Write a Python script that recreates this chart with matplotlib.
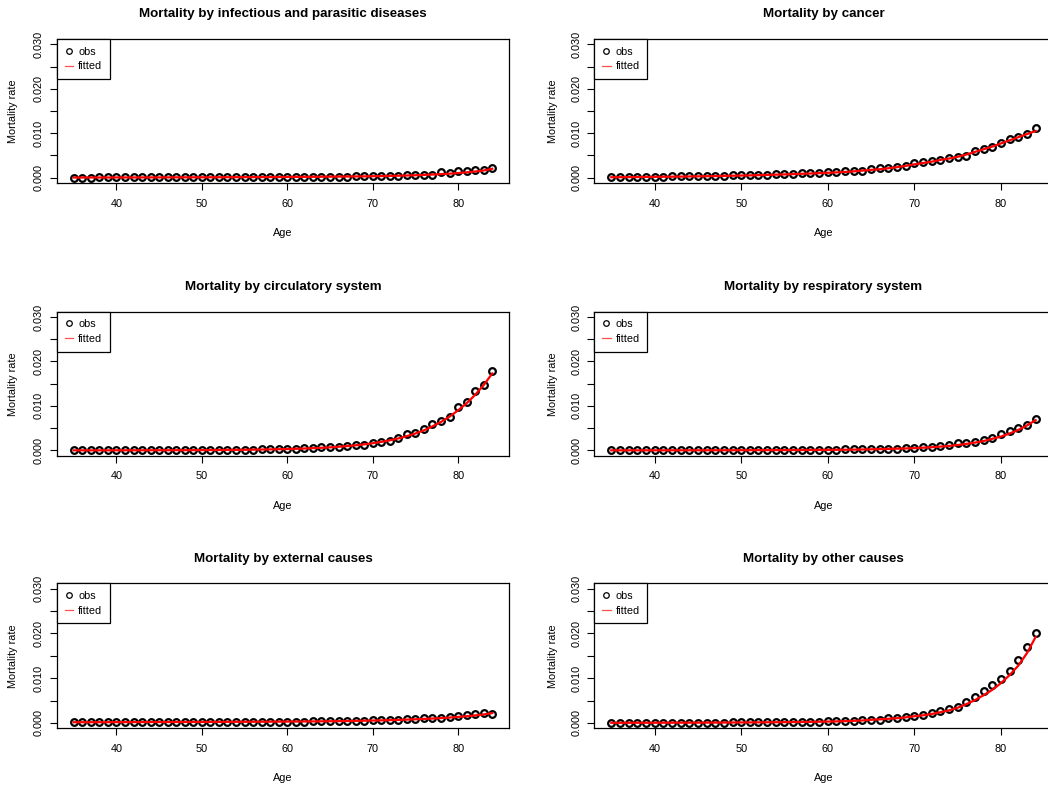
import matplotlib
matplotlib.use("Agg")
import matplotlib.pyplot as plt
from matplotlib.lines import Line2D
from matplotlib.ticker import FixedLocator, FixedFormatter

plt.rcParams['font.family'] = ['Liberation Sans', 'DejaVu Sans']

ages = list(range(35, 85))

titles = [
    "Mortality by infectious and parasitic diseases",
    "Mortality by cancer",
    "Mortality by circulatory system",
    "Mortality by respiratory system",
    "Mortality by external causes",
    "Mortality by other causes",
]

inf_obs = [0.00003, 0.00003, 0.00003, 0.00004, 0.00004, 0.00004, 0.00005, 0.00005, 0.00005, 0.00006,
           0.00006, 0.00006, 0.00007, 0.00007, 0.00008, 0.00008, 0.00009, 0.00009, 0.0001, 0.0001,
           0.00011, 0.00012, 0.00012, 0.00013, 0.00014, 0.00015, 0.00016, 0.00017, 0.00018, 0.0002,
           0.00021, 0.00023, 0.00025, 0.00027, 0.0003, 0.00035, 0.0004, 0.00045, 0.00042, 0.0005,
           0.0006, 0.0007, 0.0007, 0.0012, 0.001, 0.0015, 0.0015, 0.0018, 0.0018, 0.0022]
inf_fit = [0.00003, 0.00003, 0.00004, 0.00004, 0.00004, 0.00005, 0.00005, 0.00005, 0.00006, 0.00006,
           0.00006, 0.00007, 0.00007, 0.00008, 0.00008, 0.00009, 0.00009, 0.0001, 0.0001, 0.00011,
           0.00012, 0.00012, 0.00013, 0.00014, 0.00015, 0.00016, 0.00017, 0.00018, 0.00019, 0.00021,
           0.00022, 0.00024, 0.00026, 0.00028, 0.0003, 0.00033, 0.00036, 0.0004, 0.00044, 0.00049,
           0.00055, 0.00062, 0.0007, 0.00079, 0.0009, 0.00104, 0.0012, 0.00139, 0.00162, 0.002]

can_obs = [0.00012, 0.00014, 0.00016, 0.00018, 0.0002, 0.00022, 0.00025, 0.00027, 0.0003, 0.00033,
           0.00036, 0.0004, 0.00043, 0.00047, 0.0005, 0.00055, 0.0006, 0.00065, 0.0007, 0.00076,
           0.00082, 0.00088, 0.00095, 0.001, 0.0011, 0.0012, 0.0013, 0.0014, 0.0015, 0.0016,
           0.0019, 0.0021, 0.0022, 0.0024, 0.0026, 0.0034, 0.0036, 0.0037, 0.004, 0.0045,
           0.0047, 0.0049, 0.006, 0.0065, 0.007, 0.0077, 0.0086, 0.0092, 0.0099, 0.0111]
can_fit = [0.0001, 0.00011, 0.00013, 0.00014, 0.00016, 0.00018, 0.0002, 0.00022, 0.00024, 0.00027,
           0.0003, 0.00033, 0.00036, 0.0004, 0.00044, 0.00048, 0.00052, 0.00057, 0.00062, 0.00068,
           0.00074, 0.0008, 0.00087, 0.00094, 0.00102, 0.0011, 0.00119, 0.00129, 0.00142, 0.0016,
           0.00175, 0.0019, 0.00212, 0.00236, 0.00265, 0.003, 0.0033, 0.0036, 0.004, 0.0043,
           0.0047, 0.0052, 0.0058, 0.0064, 0.007, 0.0077, 0.0084, 0.0091, 0.0098, 0.0105]

cir_obs = [0.00001, 0.00001, 0.00001, 0.00002, 0.00002, 0.00002, 0.00002, 0.00003, 0.00003, 0.00003,
           0.00004, 0.00004, 0.00005, 0.00005, 0.00006, 0.00007, 0.00008, 0.00009, 0.0001, 0.00012,
           0.00014, 0.00016, 0.0002, 0.00024, 0.00028, 0.00034, 0.00038, 0.00044, 0.00052, 0.00075,
           0.0008, 0.0007, 0.0009, 0.0013, 0.0012, 0.0017, 0.0019, 0.0022, 0.0028, 0.0036,
           0.004, 0.0048, 0.006, 0.0066, 0.0076, 0.0097, 0.0109, 0.0133, 0.0147, 0.0178]
cir_fit = [0.00001, 0.00001, 0.00001, 0.00001, 0.00001, 0.00002, 0.00002, 0.00002, 0.00002, 0.00003,
           0.00003, 0.00003, 0.00004, 0.00004, 0.00005, 0.00006, 0.00007, 0.00008, 0.0001, 0.00011,
           0.00013, 0.00016, 0.00019, 0.00022, 0.00026, 0.0003, 0.00035, 0.00042, 0.0005, 0.00058,
           0.00068, 0.00081, 0.00096, 0.00114, 0.00135, 0.0016, 0.0019, 0.00226, 0.00268, 0.0032,
           0.0038, 0.0045, 0.0054, 0.0064, 0.0076, 0.009, 0.0106, 0.0125, 0.0147, 0.0173]

res_obs = [0.00001, 0.00001, 0.00001, 0.00001, 0.00001, 0.00002, 0.00002, 0.00002, 0.00002, 0.00003,
           0.00003, 0.00003, 0.00004, 0.00004, 0.00004, 0.00005, 0.00005, 0.00006, 0.00006, 0.00007,
           0.00008, 0.00009, 0.0001, 0.00011, 0.00013, 0.00015, 0.00017, 0.0002, 0.00022, 0.00025,
           0.0003, 0.00033, 0.00038, 0.00042, 0.00048, 0.0005, 0.0007, 0.0007, 0.001, 0.0012,
           0.0016, 0.0016, 0.0019, 0.0023, 0.0028, 0.0037, 0.0043, 0.0051, 0.0058, 0.007]
res_fit = [0.00001, 0.00001, 0.00001, 0.00001, 0.00001, 0.00001, 0.00001, 0.00002, 0.00002, 0.00002,
           0.00002, 0.00002, 0.00003, 0.00003, 0.00003, 0.00004, 0.00004, 0.00005, 0.00005, 0.00006,
           0.00006, 0.00007, 0.00008, 0.00009, 0.0001, 0.00011, 0.00012, 0.00014, 0.00017, 0.0002,
           0.00024, 0.00028, 0.00033, 0.00038, 0.00044, 0.0005, 0.0006, 0.00071, 0.00084, 0.001,
           0.0012, 0.00145, 0.00175, 0.0021, 0.0026, 0.0031, 0.0038, 0.0046, 0.0056, 0.0068]

ext_obs = [0.00015, 0.00016, 0.00016, 0.00017, 0.00017, 0.00018, 0.00018, 0.00019, 0.00019, 0.0002,
           0.0002, 0.0002, 0.00021, 0.00021, 0.00022, 0.00022, 0.00023, 0.00023, 0.00024, 0.00025,
           0.00026, 0.00028, 0.00026, 0.00027, 0.00028, 0.0003, 0.00028, 0.0003, 0.00032, 0.00034,
           0.00036, 0.0004, 0.00042, 0.00046, 0.0005, 0.00056, 0.00062, 0.0007, 0.00075, 0.00085,
           0.0009, 0.0011, 0.001, 0.0012, 0.0013, 0.0015, 0.0017, 0.002, 0.0023, 0.0021]
ext_fit = [0.00016, 0.00016, 0.00016, 0.00017, 0.00017, 0.00018, 0.00018, 0.00019, 0.00019, 0.0002,
           0.0002, 0.0002, 0.00021, 0.00021, 0.00022, 0.00022, 0.00023, 0.00023, 0.00024, 0.00025,
           0.00025, 0.00026, 0.00027, 0.00028, 0.00029, 0.0003, 0.00031, 0.00033, 0.00034, 0.00036,
           0.00038, 0.0004, 0.00043, 0.00046, 0.0005, 0.00054, 0.00058, 0.00063, 0.00068, 0.00074,
           0.00082, 0.0009, 0.00098, 0.00108, 0.0012, 0.00134, 0.0015, 0.00168, 0.0019, 0.0022]

oth_obs = [0.00003, 0.00003, 0.00003, 0.00004, 0.00004, 0.00004, 0.00005, 0.00005, 0.00006, 0.00006,
           0.00007, 0.00007, 0.00008, 0.00009, 0.0001, 0.00011, 0.00012, 0.00013, 0.00014, 0.00016,
           0.00018, 0.0002, 0.00022, 0.00025, 0.00028, 0.00032, 0.00036, 0.00042, 0.0005, 0.0006,
           0.00075, 0.00075, 0.001, 0.001, 0.0013, 0.0016, 0.0017, 0.0022, 0.0026, 0.0032,
           0.0036, 0.0046, 0.0058, 0.0071, 0.0084, 0.0099, 0.0116, 0.014, 0.017, 0.02]
oth_fit = [0.00003, 0.00003, 0.00003, 0.00004, 0.00004, 0.00004, 0.00005, 0.00005, 0.00006, 0.00006,
           0.00007, 0.00007, 0.00008, 0.00009, 0.0001, 0.00011, 0.00012, 0.00013, 0.00015, 0.00016,
           0.00018, 0.0002, 0.00022, 0.00024, 0.00027, 0.0003, 0.00035, 0.0004, 0.00047, 0.00055,
           0.0007, 0.0008, 0.00092, 0.00106, 0.00125, 0.0015, 0.0017, 0.002, 0.0024, 0.0028,
           0.0034, 0.0042, 0.0051, 0.0062, 0.0074, 0.0089, 0.0107, 0.0128, 0.0156, 0.0192]

obs_series = [inf_obs, can_obs, cir_obs, res_obs, ext_obs, oth_obs]
fit_series = [inf_fit, can_fit, cir_fit, res_fit, ext_fit, oth_fit]

W, H = 1048, 788
fig = plt.figure(figsize=(W / 100, H / 100), dpi=100)

col_x = [(57, 509), (594.3, 1052.6)]
ylab_x = [13, 553]
row_y = [(39, 183), (311.7, 455.7), (583.3, 728.3)]

yticks = [0, 0.005, 0.010, 0.015, 0.020, 0.025, 0.030]
ylabels = ["0.000", "", "0.010", "", "0.020", "", "0.030"]
xticks = [40, 50, 60, 70, 80]

fs = 7.8
for i in range(6):
    r, c = divmod(i, 2)
    x0, x1 = col_x[c]
    y0, y1 = row_y[r]
    ax = fig.add_axes([x0 / W, 1 - y1 / H, (x1 - x0) / W, (y1 - y0) / H])
    ax.plot(ages, obs_series[i], linestyle='none', marker='o', markersize=4.8,
            markerfacecolor='none', markeredgecolor='black', markeredgewidth=1.6, zorder=2)
    ax.plot(ages, fit_series[i], color='red', linewidth=1.6, zorder=3)
    ax.set_xlim(33.04, 85.96)
    ax.set_ylim(-0.0012, 0.0312)
    ax.xaxis.set_major_locator(FixedLocator(xticks))
    ax.yaxis.set_major_locator(FixedLocator(yticks))
    ax.yaxis.set_major_formatter(FixedFormatter(ylabels))
    ax.tick_params(axis='both', length=4.8, width=0.8, labelsize=fs, colors='black')
    ax.tick_params(axis='x', pad=6.5)
    ax.tick_params(axis='y', pad=4.5)
    for lab in ax.get_yticklabels():
        lab.set_rotation(90)
        lab.set_va('center')
    for sp in ax.spines.values():
        sp.set_linewidth(0.9)
        sp.set_color('black')
    ax.set_title(titles[i], fontsize=9.6, fontweight='bold', pad=15.5)
    ax.set_ylabel("Mortality rate", fontsize=fs)
    ax.set_xlabel("Age", fontsize=fs)
    ax.yaxis.set_label_coords((ylab_x[c] - x0) / (x1 - x0), 0.5)
    ax.xaxis.set_label_coords(0.5, -50.0 / (y1 - y0))
    ax.xaxis.label.set_va('center')
    ax.yaxis.label.set_va('center')

    handles = [
        Line2D([], [], linestyle='none', marker='o', markersize=4.0, markerfacecolor='none',
               markeredgecolor='black', markeredgewidth=0.9),
        Line2D([], [], color='#ff5050', linewidth=0.9),
    ]
    leg = ax.legend(handles, ["obs", "fitted"], loc='upper left', bbox_to_anchor=(0, 1),
                    borderaxespad=0, fontsize=fs, frameon=True, fancybox=False,
                    handlelength=0.8, handletextpad=0.45, borderpad=0.7, labelspacing=0.45)
    leg.get_frame().set_edgecolor('black')
    leg.get_frame().set_linewidth(0.9)
    leg.get_frame().set_alpha(1)

fig.savefig("out.png", dpi=100)
